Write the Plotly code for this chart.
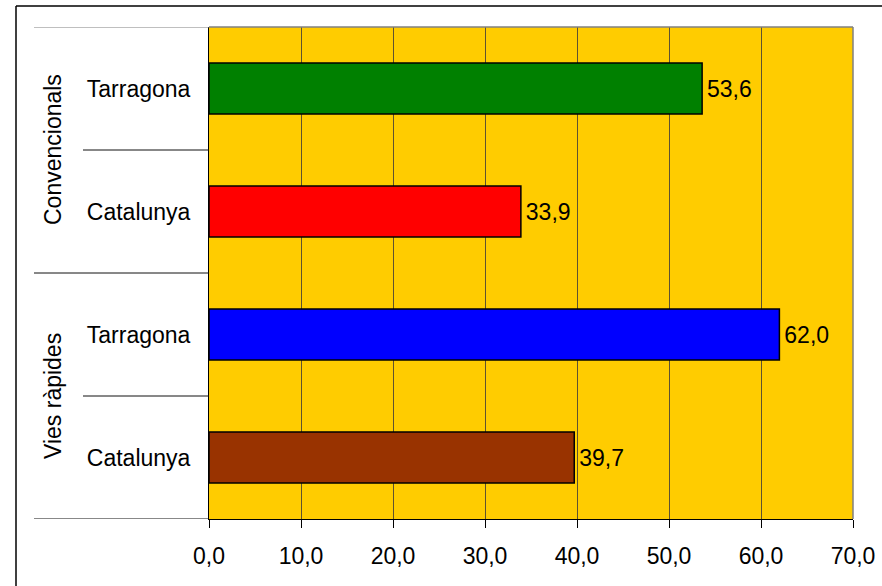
import plotly.graph_objects as go

groups = ["Convencionals", "Convencionals", "Vies ràpides", "Vies ràpides"]
regions = ["Tarragona", "Catalunya", "Tarragona", "Catalunya"]
values = [53.6, 33.9, 62.0, 39.7]
colors = ["#008000", "#FF0000", "#0000FF", "#993300"]
x_ticks = [0, 10, 20, 30, 40, 50, 60, 70]

FONT = "Liberation Sans, Arial, sans-serif"
FS = 23

pos = list(range(len(values)))

fig = go.Figure()
fig.add_trace(go.Bar(
    x=values, y=pos, orientation="h", width=0.415,
    marker=dict(color=colors, line=dict(color="#000000", width=1.5)),
    texttemplate="\u200a%{x:.1f}", textposition="outside",
    textfont=dict(family=FONT, size=FS, color="#000000"),
    cliponaxis=False, hoverinfo="skip", showlegend=False,
))

W, H = 882, 586
L, R, T, B = 209, 29, 27, 67
pw = W - L - R
ph = H - T - B

def px2paper(px):
    return (px - L) / pw

def py2paper(py):
    return (H - B - py) / ph

shapes = []
# outer frame (top and left only)
shapes.append(dict(type="line", xref="paper", yref="paper",
                   x0=px2paper(16), x1=px2paper(W), y0=py2paper(6), y1=py2paper(6),
                   line=dict(color="#000000", width=1.5)))
shapes.append(dict(type="line", xref="paper", yref="paper",
                   x0=px2paper(16), x1=px2paper(16), y0=py2paper(6), y1=py2paper(H),
                   line=dict(color="#000000", width=1.5)))
# plot area gray border top and right
shapes.append(dict(type="line", xref="paper", yref="paper", x0=0, x1=1, y0=1, y1=1,
                   line=dict(color="#808080", width=1.5)))
shapes.append(dict(type="line", xref="paper", yref="paper", x0=1, x1=1, y0=0, y1=1,
                   line=dict(color="#808080", width=1.5)))
# category dividers in label zone
n = len(values)
for i in range(n + 1):
    yb = i - 0.5
    if i == 0 or i == n or groups[i - 1] != groups[min(i, n - 1)]:
        x0 = px2paper(34)
    else:
        x0 = px2paper(83)
    col = "#808080" if i == 0 else "#111111"
    shapes.append(dict(type="line", xref="paper", yref="y", x0=x0, x1=0, y0=yb, y1=yb,
                       line=dict(color=col, width=1)))

annotations = []
seen = []
for g in groups:
    if g not in seen:
        seen.append(g)
for g in seen:
    idx = [i for i, gg in enumerate(groups) if gg == g]
    yc = sum(idx) / len(idx)
    annotations.append(dict(text=g, xref="paper", yref="y", x=px2paper(53), y=yc,
                            showarrow=False, textangle=-90, xanchor="center", yanchor="middle",
                            font=dict(family=FONT, size=FS, color="#000000")))

fig.update_layout(
    width=W, height=H, autosize=False,
    margin=dict(l=L, r=R, t=T, b=B, pad=0, autoexpand=False),
    paper_bgcolor="#FFFFFF", plot_bgcolor="#FFCC00",
    separators=",.",
    shapes=shapes, annotations=annotations,
    font=dict(family=FONT, size=FS, color="#000000"),
    xaxis=dict(range=[0, 70], tickvals=x_ticks, tickformat=".1f", automargin=False,
               showgrid=True, gridcolor="#5e5230", gridwidth=1, zeroline=False,
               showline=True, linecolor="#000000", linewidth=1,
               ticks="outside", ticklen=8, tickcolor="#000000", tickwidth=1,
               ticklabelstandoff=8,
               tickfont=dict(family=FONT, size=FS, color="#000000")),
    yaxis=dict(range=[n - 0.5, -0.5], tickvals=pos, ticktext=regions, automargin=False,
               showgrid=False, zeroline=False,
               showline=True, linecolor="#000000", linewidth=1,
               ticks="", ticklabelstandoff=13,
               tickfont=dict(family=FONT, size=FS, color="#000000")),
    bargap=0.585,
)

fig.write_html("out.html", config={"displayModeBar": False},
               post_script="document.body.style.margin='0';document.body.style.overflow='hidden';")
